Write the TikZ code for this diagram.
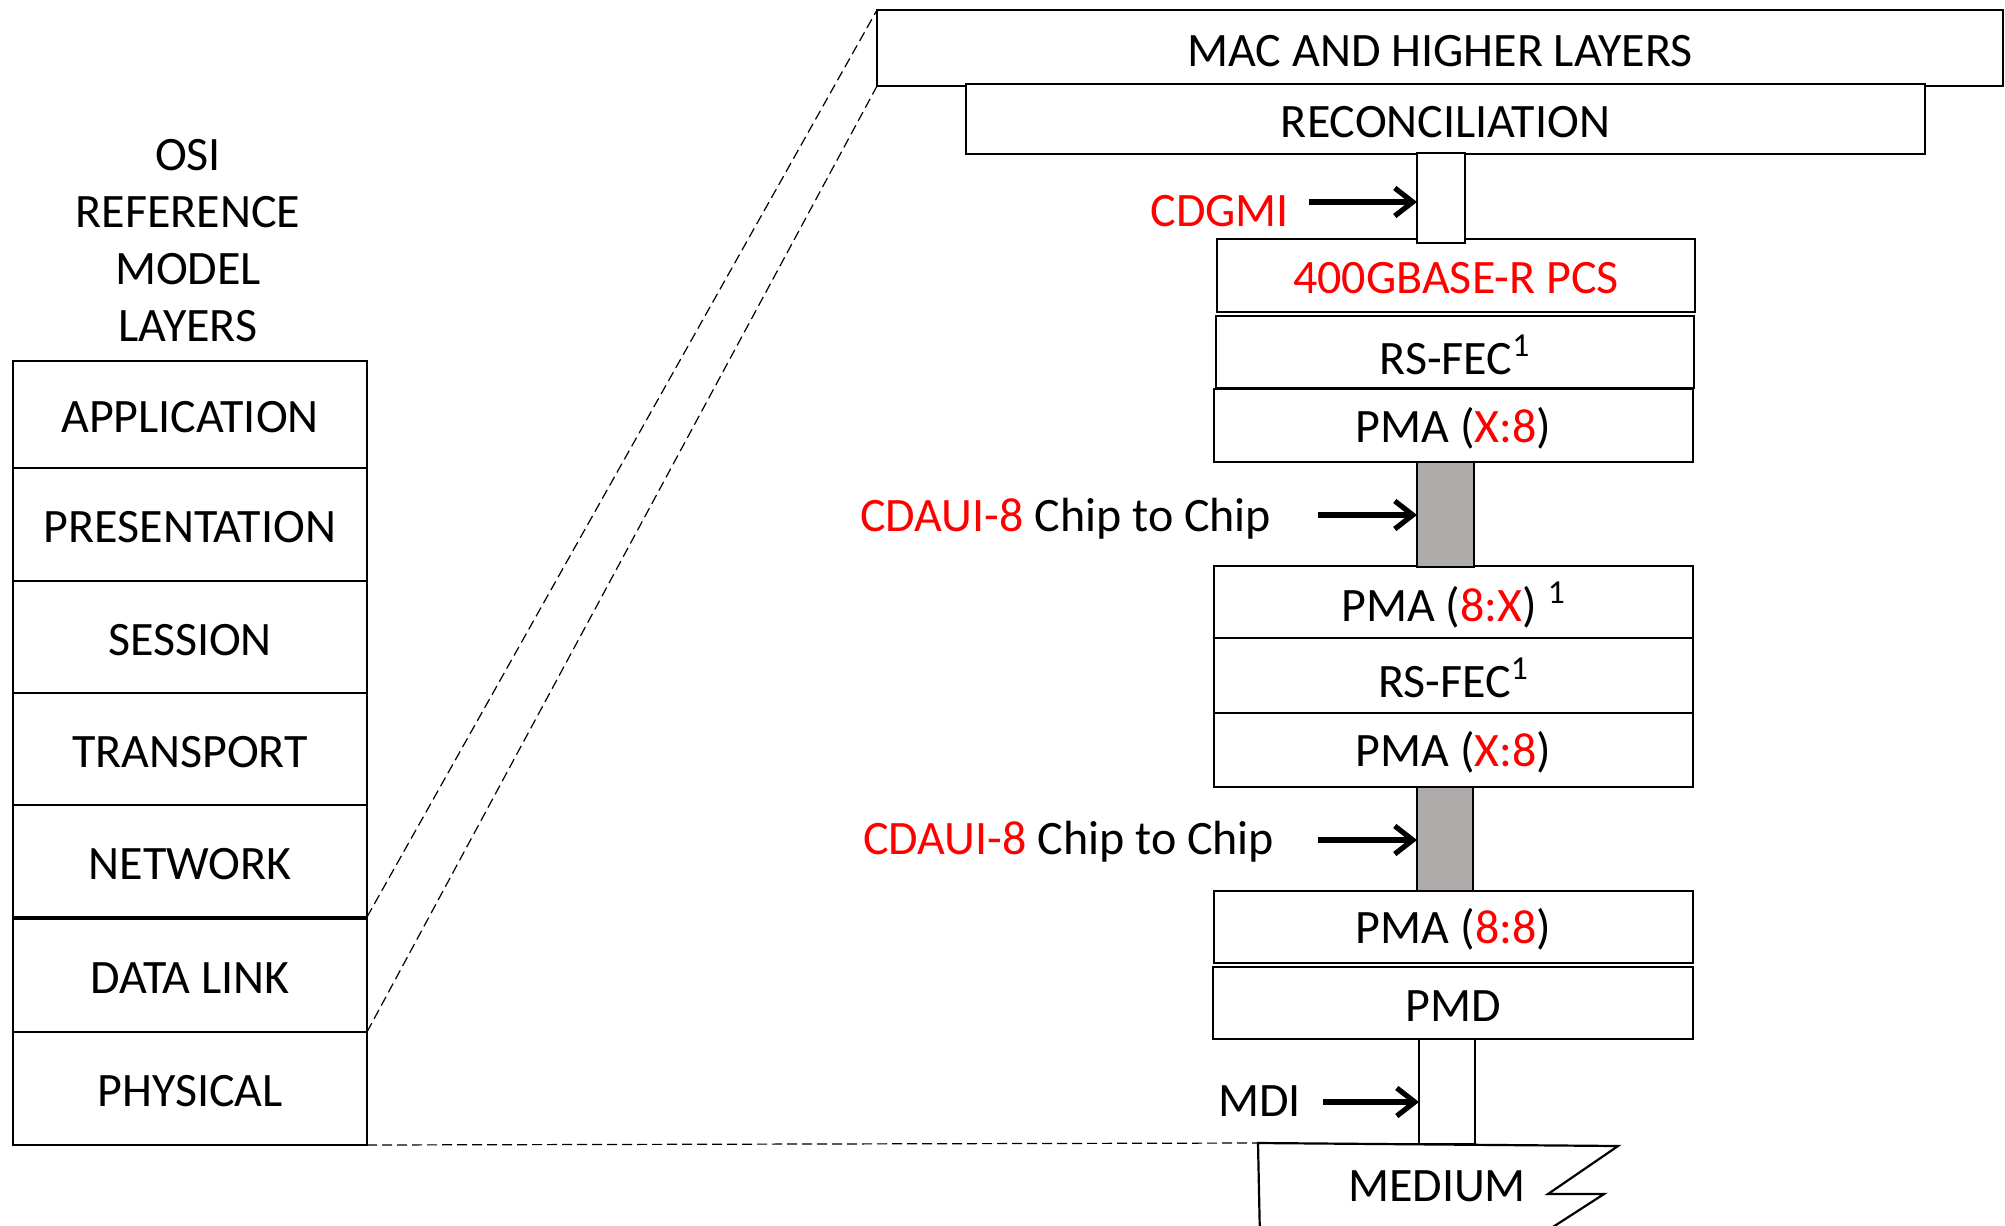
\documentclass[tikz,border=0pt]{standalone}
\usepackage{fontspec}
\setmainfont{Carlito}
\usetikzlibrary{fit,arrows.meta}
\definecolor{xred}{RGB}{255,0,0}
\definecolor{xgray}{RGB}{175,171,171}
\newcommand{\rd}[1]{\textcolor{xred}{#1}}
\begin{document}
\begin{tikzpicture}[x=0.5pt,y=-0.5pt,
  every node/.style={font=\fontsize{24}{28.5}\selectfont},
  box/.style={draw, line width=1.1pt, fill=white, inner sep=0pt, outer sep=0pt},
  tbox/.style={box, label={[inner sep=0pt, yshift=-1.3pt]center:#1}},
  graybox/.style={box, fill=xgray},
  guide/.style={line width=0.6pt, dash pattern=on 5pt off 2.5pt},
  arr/.style={line width=2.6pt, -{Straight Barb[length=9pt,width=14pt]}},
  lbl/.style={inner sep=0pt, anchor=base west}]
\useasboundingbox (0,0) rectangle (2005,1225);
\clip (0,0) rectangle (2005,1225);

% OSI column
\node[align=center, inner sep=0pt] (title) at (188,241) {OSI\\REFERENCE\\MODEL\\LAYERS};
\node[tbox={APPLICATION}, fit={(13,361) (367,468)}] (app) {};
\node[tbox={PRESENTATION}, fit={(13,468) (367,581)}] (pres) {};
\node[tbox={SESSION}, fit={(13,581) (367,693)}] (sess) {};
\node[tbox={TRANSPORT}, fit={(13,693) (367,805)}] (trans) {};
\node[tbox={NETWORK}, fit={(13,805) (367,917)}] (net) {};
\node[tbox={DATA LINK}, fit={(13,919) (367,1032)}] (dl) {};
\node[tbox={PHYSICAL}, fit={(13,1032) (367,1145)}] (phys) {};

% right stack
\node[tbox={MAC AND HIGHER LAYERS}, fit={(877,10) (2003,86)}] (mac) {};
\node[tbox={RECONCILIATION}, fit={(966,84) (1925,154)}] (rec) {};
\node[tbox={\rd{400GBASE-R PCS}}, fit={(1217,239) (1695,312)}] (pcs) {};
\node[box, fit={(1417,153) (1465,243)}] (cdgmibox) {};
\node[tbox={RS-FEC\textsuperscript{1}}, fit={(1216,316) (1694,388)}] (fec1) {};
\node[tbox={PMA (\rd{X:8})}, fit={(1214,389) (1693,462)}] (pmaA) {};
\node[tbox={PMA (\rd{8:X}) \textsuperscript{1}}, fit={(1214,566) (1693,638)}] (pmaB) {};
\node[tbox={RS-FEC\textsuperscript{1}}, fit={(1214,638) (1693,713)}] (fec2) {};
\node[tbox={PMA (\rd{X:8})}, fit={(1214,713) (1693,787)}] (pmaC) {};
\node[tbox={PMA (\rd{8:8})}, fit={(1214,891) (1693,963)}] (pmaD) {};
\node[tbox={PMD}, fit={(1213,967) (1693,1039)}] (pmd) {};
\node[graybox, fit={(1417,462) (1474,567)}] (gray1) {};
\node[graybox, fit={(1417,787) (1473,891)}] (gray2) {};
\node[box, fit={(1419,1039) (1475,1144)}] (mdibox) {};

% medium
\coordinate (m1) at (1258,1143);
\draw[line width=1.1pt, fill=white] (1260,1240) -- (m1) -- (1618,1146) -- (1548,1194) -- (1604,1194) -- (1525,1245);
\node[inner sep=0pt, anchor=base] (medlbl) at (1437,1201) {MEDIUM};

% labels and arrows
\node[lbl] (cdgmilbl) at (1150,227) {\rd{CDGMI}};
\node[lbl] (cdaui1) at (860,531) {\rd{CDAUI-8} Chip to Chip};
\node[lbl] (cdaui2) at (863,854) {\rd{CDAUI-8} Chip to Chip};
\node[lbl] (mdilbl) at (1218,1116) {MDI};
\coordinate (t1) at (1309,202);
\coordinate (t2) at (1318,515);
\coordinate (t3) at (1318,840);
\coordinate (t4) at (1323,1102);
\draw[arr] (t1) -- (t1 -| cdgmibox.west);
\draw[arr] (t2) -- (t2 -| gray1.west);
\draw[arr] (t3) -- (t3 -| gray2.west);
\draw[arr] (t4) -- (t4 -| mdibox.west);

% guides
\draw[guide] (net.south east) -- (mac.north west);
\draw[guide] (dl.south east) -- (mac.south west);
\draw[guide] (phys.south east) -- (m1);
\end{tikzpicture}
\end{document}
